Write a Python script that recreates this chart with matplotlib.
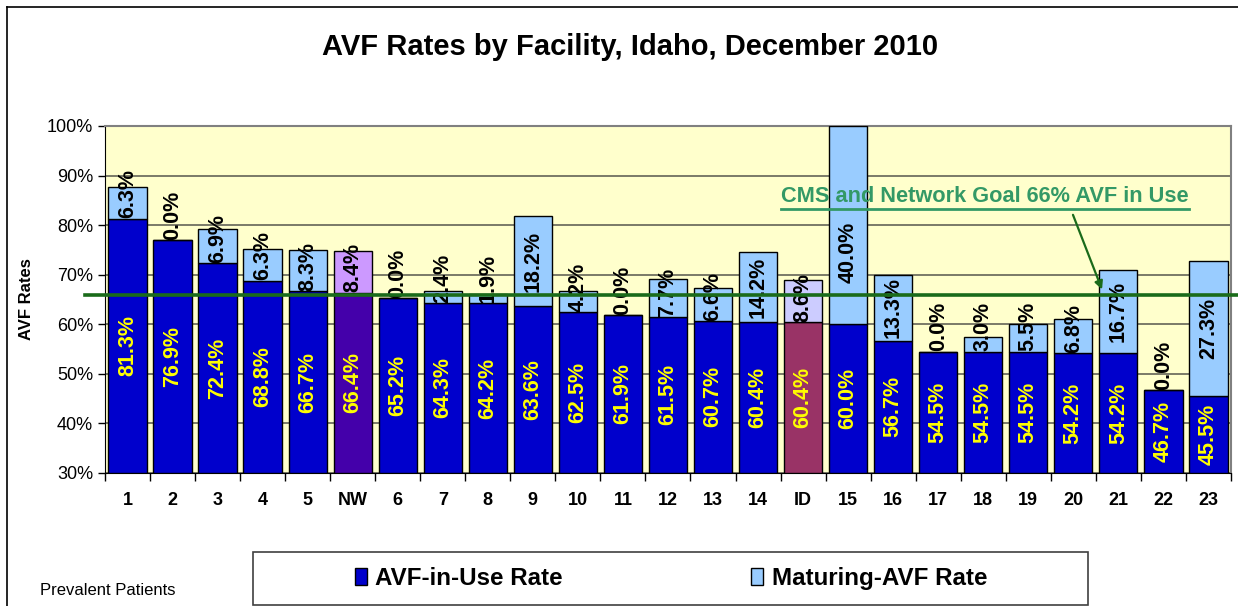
import matplotlib
matplotlib.use('Agg')
import matplotlib.pyplot as plt
from matplotlib.patches import Rectangle
from matplotlib.lines import Line2D
from matplotlib.ticker import FuncFormatter, FixedLocator

plt.rcParams['font.family'] = ['Liberation Sans', 'DejaVu Sans']

# data
facilities = ['1', '2', '3', '4', '5', 'NW', '6', '7', '8', '9', '10', '11', '12',
              '13', '14', 'ID', '15', '16', '17', '18', '19', '20', '21', '22', '23']
avf_in_use = [81.3, 76.9, 72.4, 68.8, 66.7, 66.4, 65.2, 64.3, 64.2, 63.6, 62.5, 61.9, 61.5,
              60.7, 60.4, 60.4, 60.0, 56.7, 54.5, 54.5, 54.5, 54.2, 54.2, 46.7, 45.5]
avf_maturing = [6.3, 0.0, 6.9, 6.3, 8.3, 8.4, 0.0, 2.4, 1.9, 18.2, 4.2, 0.0, 7.7,
                6.6, 14.2, 8.6, 40.0, 13.3, 0.0, 3.0, 5.5, 6.8, 16.7, 0.0, 27.3]
goal = 66
base = 30

# colours: network and state bars are highlighted
in_use_col = []
mat_col = []
for f in facilities:
    if f == 'NW':
        in_use_col.append('#4400AA')
        mat_col.append('#CC99FF')
    elif f == 'ID':
        in_use_col.append('#993366')
        mat_col.append('#CCCCFF')
    else:
        in_use_col.append('#0000CC')
        mat_col.append('#99CCFF')

fig = plt.figure(figsize=(12.38, 6.06), dpi=100)
ax = fig.add_axes([0.0848, 0.2195, 0.9095, 0.5726])
ax.set_facecolor('#FFFFCC')

x = list(range(len(facilities)))
h1 = [v - base for v in avf_in_use]
ax.bar(x, h1, bottom=base, width=0.85, color=in_use_col, edgecolor='black', linewidth=1, zorder=3)
ax.bar(x, avf_maturing, bottom=avf_in_use, width=0.85, color=mat_col, edgecolor='black',
       linewidth=1, zorder=3)

for i in x:
    ax.text(i, (base + avf_in_use[i]) / 2, '%.1f%%' % avf_in_use[i], rotation=90,
            ha='center', va='center', color='#FFFF00', fontsize=15.5, fontweight='bold', zorder=5)
    off = min(max(avf_maturing[i] / 2, 5.0), 14.5)
    ax.text(i, avf_in_use[i] + off, '%.1f%%' % avf_maturing[i],
            rotation=90, ha='center', va='center', color='black', fontsize=15.5,
            fontweight='bold', zorder=5)

ax.set_xlim(-0.5, len(facilities) - 0.5)
ax.set_ylim(base, 100)
ax.yaxis.set_major_locator(FixedLocator(range(30, 101, 10)))
ax.yaxis.set_major_formatter(FuncFormatter(lambda v, p: '%d%%' % v))
ax.grid(axis='y', color='#707060', linewidth=1.3, zorder=1)
ax.set_axisbelow(True)
ax.tick_params(axis='y', labelsize=13, direction='out', length=5, color='black', width=1)

ax.set_xticks(x)
ax.set_xticklabels(facilities, fontsize=13, fontweight='bold')
ax.set_xticks([i - 0.5 for i in x] + [len(x) - 0.5], minor=True)
ax.tick_params(axis='x', which='major', length=0, pad=14)
ax.tick_params(axis='x', which='minor', length=6, direction='out', color='black', width=1)

for s in ['top', 'right']:
    ax.spines[s].set_color('#808080')
    ax.spines[s].set_linewidth(1.5)
ax.spines['left'].set_color('black')
ax.spines['bottom'].set_color('black')

ax.set_ylabel('AVF Rates', fontsize=12, fontweight='bold', labelpad=9)

# goal line running past both edges of the plot
ax.plot([-0.018, 1.01], [goal, goal], transform=ax.get_yaxis_transform(), color='#1A6B1A',
        linewidth=2.6, clip_on=False, zorder=6)

gtxt = ax.text(19.04, 85.8, 'CMS and Network Goal 66% AVF in Use', ha='center', va='center',
               color='#339966', fontsize=15.7, fontweight='bold', zorder=7)
ax.annotate('', xy=(21.66, 66.5), xytext=(20.97, 82.6),
            arrowprops=dict(arrowstyle='-|>', color='#1A6B1A', lw=1.6, mutation_scale=12), zorder=7)

fig.text(0.509, 0.922, 'AVF Rates by Facility, Idaho, December 2010', ha='center', va='center',
         fontsize=21, fontweight='bold')

# legend box at the bottom
fig.patches.append(Rectangle((0.2044, 0.002), 0.6745, 0.087, transform=fig.transFigure,
                             facecolor='white', edgecolor='#404040', linewidth=1.2))
handles = [Rectangle((0, 0), 1, 1, facecolor='#0000CC', edgecolor='black'),
           Rectangle((0, 0), 1, 1, facecolor='#99CCFF', edgecolor='black')]
fig.legend(handles, ['AVF-in-Use Rate', 'Maturing-AVF Rate'], ncol=2, loc='center',
           bbox_to_anchor=(0.542, 0.046), frameon=False,
           prop={'size': 17.4, 'weight': 'bold'}, handlelength=0.5, handleheight=0.7,
           handletextpad=0.35, columnspacing=7.8)

fig.text(0.032, 0.026, 'Prevalent Patients', ha='left', va='center', fontsize=12)

# outer frame (top and left only)
fig.lines.append(Line2D([0.0057, 1.0], [0.9885, 0.9885], transform=fig.transFigure,
                        color='black', linewidth=1.2))
fig.lines.append(Line2D([0.0057, 0.0057], [0.0, 0.9885], transform=fig.transFigure,
                        color='black', linewidth=1.2))

# underline the goal text
fig.canvas.draw()
bb = gtxt.get_window_extent().transformed(fig.transFigure.inverted())
fig.lines.append(Line2D([bb.x0, bb.x1], [bb.y0 - 0.003, bb.y0 - 0.003], transform=fig.transFigure,
                        color='#339966', linewidth=2))

fig.savefig('out.png', dpi=100)
